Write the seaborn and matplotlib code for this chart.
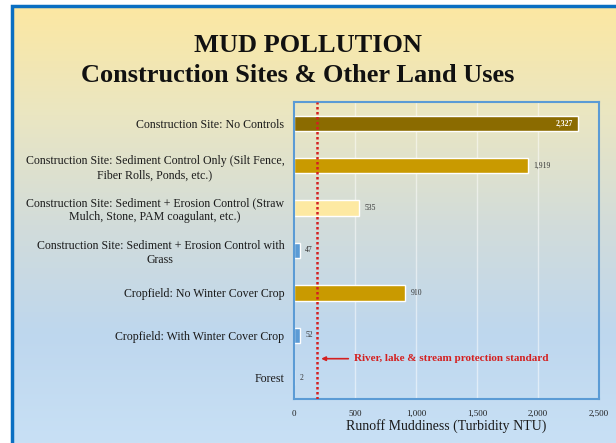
import numpy as np
import pandas as pd
import matplotlib.pyplot as plt
import seaborn as sns
from matplotlib.colors import LinearSegmentedColormap
from matplotlib.patches import Rectangle

# Chart data
categories = [
    "Construction Site: No Controls",
    "Construction Site: Sediment Control Only (Silt Fence,\nFiber Rolls, Ponds, etc.)",
    "Construction Site: Sediment + Erosion Control (Straw\nMulch, Stone, PAM coagulant, etc.)",
    "Construction Site: Sediment + Erosion Control with\nGrass",
    "Cropfield: No Winter Cover Crop",
    "Cropfield: With Winter Cover Crop",
    "Forest",
]
turbidity = [2327, 1919, 535, 47, 910, 52, 2]
value_labels = ["2,327", "1,919", "535", "47", "910", "52", "2"]
bar_colors = ["#8b6b00", "#c99a00", "#fde9a2", "#5b9bd5", "#c99a00", "#5b9bd5", "#5b9bd5"]
standard = 185
x_ticks = [0, 500, 1000, 1500, 2000, 2500]
x_tick_labels = ["0", "500", "1,000", "1,500", "2,000", "2,500"]

df = pd.DataFrame({"category": categories, "ntu": turbidity})

sns.set_theme(style="white")
plt.rcParams["font.family"] = ["Liberation Serif", "DejaVu Serif"]

fig = plt.figure(figsize=(6.16, 4.43), dpi=100)

# Gradient background (yellow -> light blue) inside a blue frame
bg = fig.add_axes([0, 0, 1, 1], zorder=-10)
cmap = LinearSegmentedColormap.from_list(
    "bg", ["#fce8a2", "#eae6c2", "#d2dcda", "#bed7ee", "#c8e0f5"])
grad = np.linspace(0, 1, 256).reshape(-1, 1)
bg.imshow(grad, aspect="auto", cmap=cmap, extent=[11 / 616, 1.02, 0, 1 - 6 / 443], origin="upper")
bg.set_xlim(0, 1)
bg.set_ylim(0, 1)
bg.add_patch(Rectangle((11.5 / 616, -0.05), 1.1, 1 - 6 / 443 + 0.05, fill=False,
                       edgecolor="#0a6fc2", lw=2.5))
bg.axis("off")

ax = fig.add_axes([294 / 616, 1 - 399 / 443, 305 / 616, 297 / 443])
ax.patch.set_alpha(0)
sns.barplot(data=df, y="category", x="ntu", hue="category", palette=bar_colors,
            legend=False, width=0.36, saturation=1, ax=ax, orient="h")

ax.set_xlim(0, 2500)
ax.set_xticks(x_ticks)
ax.set_xticklabels(x_tick_labels, fontsize=6.5)
ax.tick_params(axis="x", length=0, pad=8, colors="#222222")
ax.tick_params(axis="y", length=0, pad=7)
for lab in ax.get_yticklabels():
    lab.set_fontsize(8.6)
    lab.set_multialignment("center")
    lab.set_color("#1a1a1a")
ax.set_ylabel("")
ax.set_xlabel("Runoff Muddiness (Turbidity NTU)", fontsize=10, color="#1a1a1a", labelpad=1)
ax.xaxis.grid(True, color="white", lw=1, alpha=0.5)
ax.set_axisbelow(True)
for s in ax.spines.values():
    s.set_color("#5b9bd5")
    s.set_linewidth(1.5)

# Value labels
for i, (v, t) in enumerate(zip(turbidity, value_labels)):
    if i == 0:
        ax.text(v - 40, i, t, ha="right", va="center", fontsize=5.5, color="white", fontweight="bold")
    else:
        ax.text(v + 45, i, t, ha="left", va="center", fontsize=5.5, color="#333333")

# Protection standard line and annotation
ax.axvline(standard, color="#d42020", lw=1.8, ls=(0, (1, 1)), zorder=5)
ax.annotate("River, lake & stream protection standard", xy=(standard + 15, 5.55),
            xytext=(standard + 310, 5.55), fontsize=8, color="#d42020", fontweight="bold",
            va="center", ha="left",
            arrowprops=dict(arrowstyle="-|>", color="#d42020", lw=1.2, mutation_scale=6))

fig.text(308 / 616, 1 - 46 / 443, "MUD POLLUTION", ha="center", va="center",
         fontsize=19, fontweight="bold", color="#111111")
fig.text(298 / 616, 1 - 75 / 443, "Construction Sites & Other Land Uses", ha="center", va="center",
         fontsize=19, fontweight="bold", color="#111111")

fig.savefig("out.png", dpi=100)
